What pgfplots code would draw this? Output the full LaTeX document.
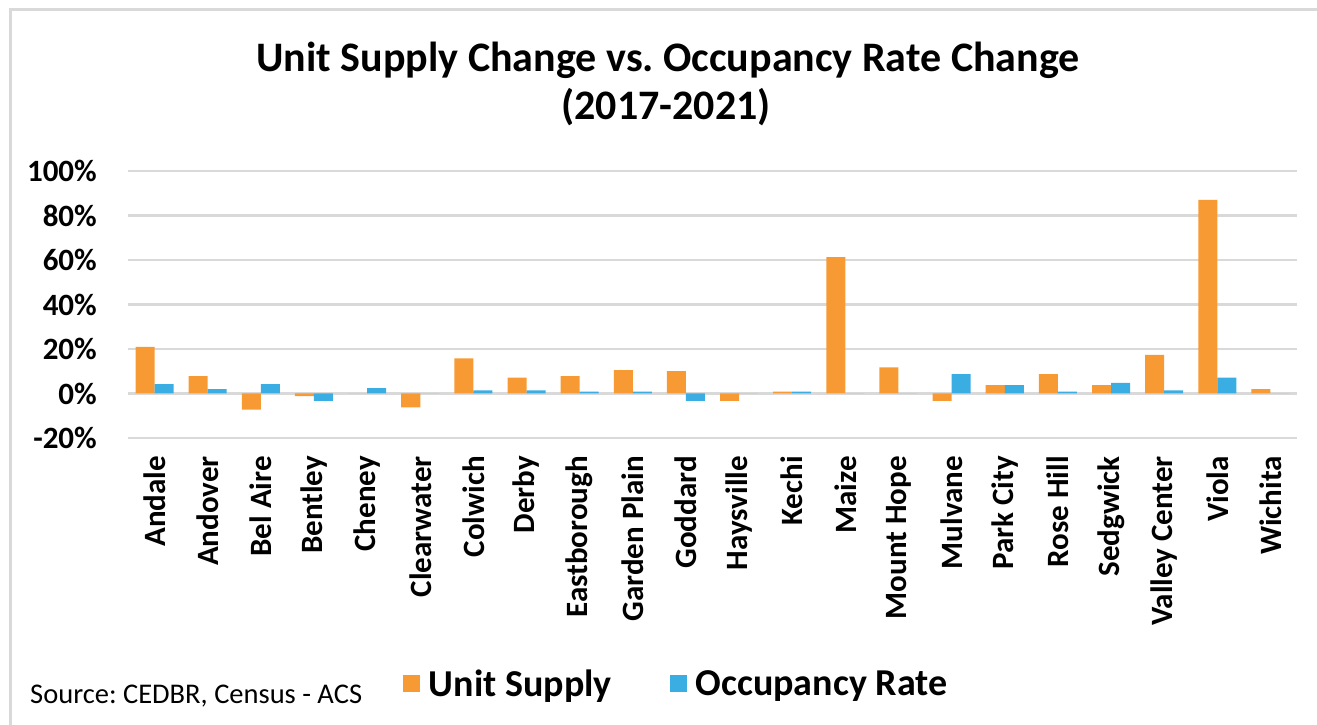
\documentclass[border=0pt]{standalone}
\usepackage{fontspec}
\setmainfont{Carlito}
\usepackage{pgfplots}
\pgfplotsset{compat=1.18}
\definecolor{usorange}{HTML}{F79A33}
\definecolor{ocblue}{HTML}{3AADE2}
\definecolor{gridgray}{HTML}{D9D9D9}
\frenchspacing
\begin{document}
\frenchspacing
\begin{tikzpicture}[x=1pt,y=1pt]
\useasboundingbox (0,0) rectangle (1317,725);
\draw[gridgray, line width=3pt] (10,0) -- (10,715) -- (1317,715);
\node[anchor=base, font=\fontsize{42}{46}\selectfont\bfseries] at (668,653) {Unit Supply Change vs. Occupancy Rate Change};
\node[anchor=base, font=\fontsize{42}{46}\selectfont\bfseries] at (666,605) {(2017-2021)};
\node[anchor=base west, inner sep=0pt, font=\fontsize{28.5}{30}\selectfont] at (30,21) {Source: CEDBR, Census - ACS};
\begin{axis}[
  at={(128pt,287pt)}, anchor=south west,
  scale only axis, width=1169pt, height=267pt,
  ymin=-20, ymax=100,
  ytick={-20,0,20,40,60,80,100},
  yticklabels={-20\%,0\%,20\%,40\%,60\%,80\%,100\%},
  xmin=-0.5, xmax=21.5,
  xtick={0,...,21},
  xticklabels={Andale,Andover,Bel Aire,Bentley,Cheney,Clearwater,Colwich,Derby,Eastborough,Garden Plain,Goddard,Haysville,Kechi,Maize,Mount Hope,Mulvane,Park City,Rose Hill,Sedgwick,Valley Center,Viola,Wichita},
  axis line style={draw=none},
  major tick length=0pt,
  ymajorgrids,
  major grid style={draw=gridgray, line width=2.5pt},
  tick label style={font=\fontsize{31}{34}\selectfont\bfseries, inner sep=0pt},
  xticklabel style={rotate=90, anchor=east},
  xticklabel shift=18pt,
  yticklabel shift=31pt,
  ybar=0pt, bar width=19pt,
  legend style={at={(0.468,-0.921)}, anchor=center, draw=none, fill=none,
    font=\fontsize{38}{40}\selectfont\bfseries, inner sep=0pt,
    nodes={inner sep=0pt},
    /tikz/every odd column/.append style={column sep=9pt},
    /tikz/every even column/.append style={column sep=58pt}},
  legend columns=2,
]
\addplot[fill=usorange, draw=none, legend image code/.code={\fill[usorange] (0pt,-8.5pt) rectangle (17pt,8.5pt);}] coordinates {
(0,21) (1,7.8) (2,-7.2) (3,-1.2) (4,0) (5,-6.2) (6,15.8) (7,7.1) (8,7.8) (9,10.5) (10,10.1)
(11,-3.3) (12,0.8) (13,61.3) (14,11.7) (15,-3.3) (16,3.8) (17,8.7) (18,3.8) (19,17.4) (20,87) (21,2)};
\addplot[fill=ocblue, draw=none, legend image code/.code={\fill[ocblue] (0pt,-8.5pt) rectangle (17pt,8.5pt);}] coordinates {
(0,4.2) (1,2) (2,4.2) (3,-3.3) (4,2.4) (5,0) (6,1.4) (7,1.4) (8,0.8) (9,0.8) (10,-3.3)
(11,0) (12,0.8) (13,0) (14,0) (15,8.7) (16,3.8) (17,0.8) (18,4.8) (19,1.4) (20,7.1) (21,0)};
\legend{Unit Supply, Occupancy Rate}
\end{axis}
\end{tikzpicture}
\end{document}
